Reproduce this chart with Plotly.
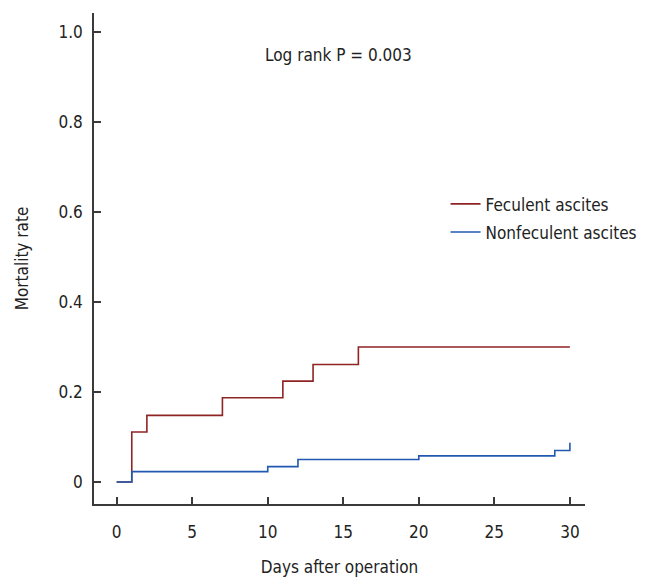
import plotly.graph_objects as go

# Data
feculent_days = [0, 1, 2, 7, 11, 13, 16, 30]
feculent_rate = [0, 0.111, 0.148, 0.187, 0.224, 0.261, 0.30, 0.30]

nonfeculent_days = [0, 1, 10, 12, 20, 29, 30]
nonfeculent_rate = [0, 0.023, 0.034, 0.050, 0.058, 0.070, 0.087]

x_ticks = [0, 5, 10, 15, 20, 25, 30]
y_ticks = [0, 0.2, 0.4, 0.6, 0.8, 1.0]
y_ticktext = ["0", "0.2", "0.4", "0.6", "0.8", "1.0"]

FONT = "DejaVu Sans Condensed, sans-serif"
FS = 17
TXT = "#222222"
AX = "#3a3a3a"

fig = go.Figure()
fig.add_trace(go.Scatter(x=feculent_days, y=feculent_rate, mode="lines",
                         line=dict(shape="hv", color="#8e2424", width=1.6),
                         name="Feculent ascites", legendgroup="a"))
fig.add_trace(go.Scatter(x=nonfeculent_days, y=nonfeculent_rate, mode="lines",
                         line=dict(shape="hv", color="#2159b0", width=1.6),
                         name="Nonfeculent ascites", legendgroup="b"))

fig.add_annotation(x=14.7, y=0.949, xref="x", yref="y", text="Log rank P = 0.003",
                   showarrow=False, font=dict(family=FONT, size=FS, color=TXT))

# page body has an 8px default margin; figure spans to the window's right/bottom edge
fig.update_layout(
    width=637, height=571,
    margin=dict(l=85.5, r=60, t=5, b=75, pad=0, autoexpand=False),
    paper_bgcolor="white", plot_bgcolor="white",
    font=dict(family=FONT, size=FS, color=TXT),
    showlegend=True,
    legend=dict(x=0.716, y=0.647, xanchor="left", yanchor="top",
                bgcolor="rgba(0,0,0,0)", font=dict(family=FONT, size=FS, color=TXT),
                tracegroupgap=3, itemwidth=30),
    xaxis=dict(range=[-1.5, 31], tickvals=x_ticks, ticks="inside", ticklen=7,
               tickcolor=AX, tickwidth=1.5, showline=True, linecolor=AX, linewidth=1.5,
               showgrid=False, zeroline=False, ticklabelstandoff=12, automargin=False,
               title=dict(text="Days after operation", standoff=20,
                          font=dict(family=FONT, size=FS, color=TXT))),
    yaxis=dict(range=[-0.049, 1.042], tickvals=y_ticks, ticktext=y_ticktext,
               ticks="inside", ticklen=7, tickcolor=AX, tickwidth=1.5,
               showline=True, linecolor=AX, linewidth=1.5, showgrid=False,
               zeroline=False, ticklabelstandoff=6, automargin=False,
               title=dict(text="Mortality rate", standoff=26,
                          font=dict(family=FONT, size=FS, color=TXT))),
)

fig.write_html("out.html")
